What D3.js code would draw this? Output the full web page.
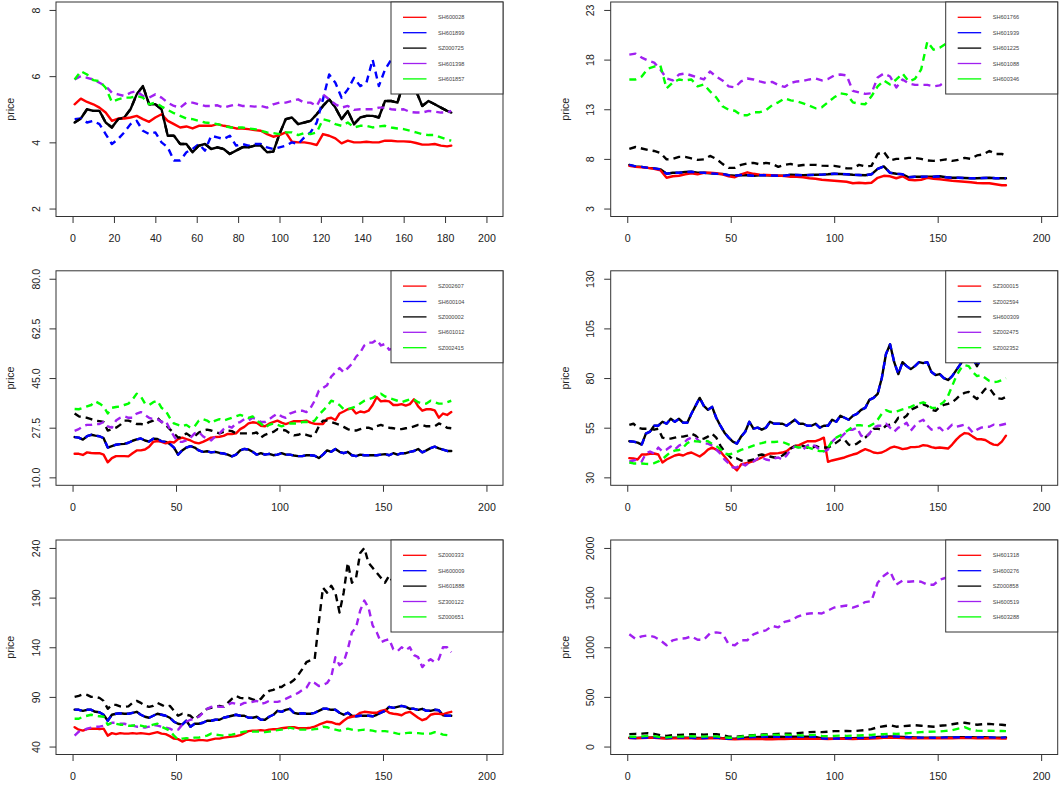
<!DOCTYPE html>
<html><head><meta charset="utf-8">
<script src="https://cdn.jsdelivr.net/npm/d3@7"></script>
<style>html,body{margin:0;padding:0;background:#fff;}svg{display:block;}</style>
</head><body>
<svg id="chart" width="1064" height="787"></svg>
<script>
// ---------- time index (trading day number) ----------
const days3 = [1,4,7,10,13,16,19,22,25,28,31,34,37,40,43,46,49,52,55,58,61,64,67,70,73,76,79,82,85,88,91,94,97,100,103,106,109,112,115,118,121,124,127,130,133,136,139,142,145,148,151,154,157,160,163,166,169,172,175,178,181,183];
const days2 = d3.range(1, 184, 2);

// ---------- panel 1 ----------
const SH600028 = [5.15,5.32,5.22,5.15,5.05,4.9,4.65,4.72,4.72,4.75,4.8,4.7,4.62,4.75,4.85,4.65,4.55,4.45,4.48,4.42,4.5,4.5,4.5,4.55,4.5,4.47,4.42,4.42,4.4,4.37,4.35,4.25,4.17,4.22,4.3,4.02,4.0,4.0,3.97,3.92,4.25,4.2,4.12,3.97,4.05,4.0,4.0,4.02,4.0,4.0,4.05,4.05,4.03,4.03,4.02,3.98,3.93,3.93,3.95,3.9,3.88,3.9];
const SH601899 = [4.7,4.72,4.6,4.65,4.55,4.25,3.95,4.1,4.3,4.55,4.65,4.35,4.25,4.3,4.0,3.85,3.45,3.45,3.7,3.8,3.95,3.75,4.2,4.15,4.1,4.2,3.9,3.95,3.9,3.95,3.95,3.85,3.8,3.85,3.9,4.0,3.95,4.15,4.3,4.6,5.3,6.05,5.8,5.35,5.6,5.95,5.7,5.8,6.5,5.7,6.2,6.5,6.7,6.9,6.6,6.8,6.5,6.6,6.4,6.3,6.4,6.3];
const SZ000725 = [4.6,4.72,5.0,4.95,4.95,4.6,4.45,4.7,4.75,5.0,5.45,5.7,5.15,5.15,5.0,4.2,4.2,3.95,3.95,3.7,3.9,3.95,3.8,3.85,3.8,3.65,3.75,3.85,3.85,3.9,3.9,3.7,3.72,4.25,4.7,4.75,4.55,4.6,4.65,4.85,5.1,5.3,5.05,4.7,4.95,4.55,4.75,4.8,4.8,4.75,5.25,5.25,5.2,5.8,5.7,5.55,5.1,5.25,5.15,5.05,4.95,4.9];
const SH601398 = [5.9,6.0,5.95,5.9,5.8,5.7,5.5,5.45,5.4,5.5,5.55,5.4,5.35,5.45,5.35,5.2,5.1,5.05,5.2,5.2,5.15,5.1,5.1,5.12,5.05,5.1,5.15,5.1,5.1,5.08,5.1,5.05,5.15,5.2,5.2,5.25,5.3,5.2,5.2,5.1,5.45,5.3,5.15,5.05,5.1,4.98,5.0,5.0,5.0,5.05,5.05,5.0,4.98,5.0,4.92,4.9,4.9,4.95,4.93,4.9,4.9,4.95];
const SH601857 = [5.9,6.15,6.05,5.88,5.85,5.65,5.22,5.3,5.35,5.35,5.4,5.35,5.15,5.2,5.08,4.98,4.88,4.8,4.72,4.7,4.65,4.6,4.58,4.55,4.5,4.45,4.45,4.45,4.42,4.4,4.35,4.3,4.28,4.25,4.3,4.3,4.22,4.28,4.25,4.3,4.7,4.65,4.55,4.5,4.6,4.45,4.5,4.5,4.45,4.48,4.5,4.45,4.42,4.4,4.35,4.3,4.25,4.22,4.22,4.15,4.08,4.05];

// ---------- panel 2 ----------
const SH601766 = [7.3,7.2,7.15,7.1,7.0,6.85,6.1,6.25,6.3,6.45,6.55,6.45,6.6,6.6,6.55,6.45,6.25,6.15,6.45,6.65,6.5,6.42,6.38,6.35,6.32,6.28,6.2,6.2,6.15,6.05,6.0,5.9,5.85,5.8,5.75,5.7,5.55,5.6,5.55,5.6,6.1,6.3,6.25,6.05,6.25,5.9,5.85,5.9,6.1,6.0,5.95,5.88,5.8,5.75,5.7,5.65,5.58,5.55,5.55,5.45,5.35,5.35];
const SH601939 = [7.4,7.25,7.2,7.1,7.05,6.95,6.5,6.6,6.6,6.68,6.7,6.62,6.6,6.55,6.5,6.48,6.35,6.3,6.38,6.35,6.3,6.35,6.35,6.33,6.3,6.3,6.4,6.38,6.35,6.38,6.4,6.42,6.45,6.5,6.48,6.45,6.4,6.38,6.35,6.45,7.0,7.25,6.6,6.5,6.45,6.15,6.2,6.2,6.22,6.2,6.25,6.15,6.1,6.1,6.08,6.05,6.05,6.07,6.1,6.05,6.05,6.05];
const SH601225 = [9.0,9.2,9.05,8.9,8.8,8.6,7.95,8.0,8.2,8.2,8.05,7.9,7.95,8.3,8.0,7.5,7.1,7.1,7.4,7.55,7.6,7.45,7.6,7.5,7.2,7.4,7.5,7.3,7.38,7.4,7.4,7.32,7.3,7.3,7.2,7.05,7.05,7.4,7.25,7.3,8.5,8.7,7.85,8.0,8.0,8.1,8.1,8.0,7.85,7.8,7.85,7.95,7.8,7.9,8.1,8.0,8.35,8.45,8.8,8.5,8.5,8.3];
const SH601088 = [18.5,18.6,18.2,17.9,17.7,17.0,16.1,15.9,16.5,16.6,16.4,16.2,16.0,16.8,16.3,15.9,15.3,15.2,15.8,16.1,16.0,15.8,15.65,15.75,15.45,15.25,15.65,15.8,15.85,16.0,16.1,15.9,16.05,16.4,16.5,16.4,14.85,14.7,14.55,14.6,16.2,16.6,16.3,15.2,16.0,15.6,15.45,15.45,15.45,15.3,15.4,15.8,16.0,16.3,16.0,15.8,16.2,16.5,16.1,16.0,15.9,16.0];
const SH600346 = [16.0,16.0,16.3,17.1,17.3,17.4,15.1,15.7,16.0,15.9,16.0,15.3,15.5,14.8,14.2,13.3,12.95,12.85,12.4,12.4,12.7,12.7,12.9,13.4,13.7,14.1,13.9,13.8,13.6,13.35,13.1,13.2,13.7,14.2,14.6,14.5,13.7,13.55,13.5,14.3,15.3,15.9,15.5,16.0,16.6,15.8,16.05,17.0,19.8,19.0,19.2,19.6,20.0,20.4,20.8,20.5,20.9,21.2,20.7,20.9,21.0,21.1];

// ---------- panel 3 ----------
const SZ002607 = [18.3,18.3,17.9,18.8,18.6,18.5,18.5,18.0,15.3,16.8,17.5,17.5,17.5,17.4,18.5,19.5,19.5,19.8,20.8,22.5,22.8,22.5,22.0,22.5,22.3,23.5,24.0,23.5,23.0,22.3,22.0,22.5,23.2,24.0,24.2,24.3,24.6,25.3,25.3,25.5,27.0,27.8,29.0,29.4,29.2,28.2,28.0,28.9,29.5,30.0,29.3,28.8,29.3,29.8,29.8,29.8,30.0,29.3,28.9,28.8,28.8,30.7,31.0,30.2,32.5,33.2,34.0,34.3,32.5,33.2,32.9,33.5,35.5,38.3,36.8,37.0,36.8,35.5,35.5,35.8,35.3,35.8,37.5,35.0,33.5,34.0,34.0,33.6,31.0,32.5,32.0,33.0];
const SH600104 = [24.2,24.0,23.3,24.5,25.0,24.7,24.5,23.8,20.5,21.0,21.5,21.7,21.8,22.2,22.9,23.4,23.7,23.0,22.6,23.6,23.5,22.7,22.5,21.8,20.5,18.0,19.5,20.5,21.0,20.5,19.5,19.0,19.2,18.8,19.0,18.6,18.4,18.0,17.4,18.0,19.5,20.0,19.8,19.0,18.0,18.5,18.0,18.3,17.8,18.0,18.5,18.0,18.0,17.7,17.5,17.5,17.8,17.8,17.6,16.8,18.0,19.5,19.0,20.0,19.0,18.5,19.0,17.8,17.5,18.0,17.8,17.8,17.8,17.8,18.0,18.2,17.8,18.5,18.0,18.5,18.5,19.0,19.3,20.0,18.8,19.5,20.3,20.8,20.2,19.8,19.3,19.3];
const SZ000002 = [32.5,31.5,31.2,31.0,30.5,30.0,29.8,29.5,26.5,27.0,27.5,28.5,30.0,30.0,29.5,28.8,28.8,28.5,29.5,30.0,31.0,29.5,28.5,27.0,25.5,24.0,24.3,25.5,24.5,24.5,25.8,26.5,26.8,26.5,26.0,25.5,26.0,26.5,26.3,25.5,25.5,25.5,25.5,25.5,25.8,24.0,25.0,25.5,26.0,27.0,26.8,26.5,25.5,24.8,25.0,25.5,25.0,24.5,25.0,28.0,30.0,30.0,29.5,29.0,28.5,27.8,27.0,26.5,26.5,27.0,27.5,27.5,27.0,28.0,28.5,28.0,27.5,27.3,27.0,27.0,27.3,27.5,28.0,28.5,28.5,28.0,28.0,28.0,29.0,28.5,27.5,27.3];
const SH601012 = [26.4,27.0,28.0,28.5,28.5,28.8,28.8,29.5,28.0,27.5,30.0,31.0,31.5,31.0,31.0,32.5,33.0,32.0,31.0,30.5,30.5,29.5,30.0,27.0,24.5,22.5,22.5,23.0,24.0,25.5,26.0,24.5,23.5,23.0,24.5,25.5,27.0,28.0,27.5,29.0,29.5,30.5,30.0,31.0,30.5,29.5,29.5,30.5,31.5,32.5,31.5,31.0,32.5,33.0,33.5,33.5,33.0,34.5,37.0,40.5,41.5,42.5,45.5,47.0,48.5,47.0,48.5,50.0,52.5,54.0,56.5,57.5,57.5,58.5,56.5,57.0,55.0,55.5,56.0,55.0,54.5,54.0,55.0,54.0,53.0,53.5,54.0,53.0,52.5,53.0,52.5,52.0];
const SZ002415 = [34.1,34.0,34.5,35.0,35.5,36.8,36.0,35.0,32.5,34.5,34.8,35.0,35.5,36.0,37.5,39.5,38.5,36.0,35.5,36.5,37.0,34.5,33.5,31.0,29.0,28.5,28.0,28.5,27.5,28.0,30.0,30.5,30.0,29.0,30.0,30.5,30.0,30.5,31.0,31.5,32.0,31.5,31.0,31.5,30.0,29.0,27.5,28.5,29.0,28.5,28.0,28.5,29.0,29.0,29.0,29.5,29.5,29.5,30.0,32.0,33.5,35.0,37.0,36.5,35.5,34.0,34.0,34.5,35.0,36.0,37.0,37.5,38.0,39.0,39.5,38.5,38.0,37.5,37.0,36.5,37.0,37.5,37.5,36.5,36.0,36.0,37.0,36.5,36.0,36.0,36.5,37.0];

// ---------- panel 4 ----------
const SZ300015 = [39.7,39.5,39.0,41.5,41.5,41.8,42.0,41.5,37.5,39.0,40.0,41.0,41.5,41.0,42.0,42.5,41.5,40.5,42.0,44.0,45.0,44.0,43.0,40.5,38.0,35.5,33.5,36.5,37.0,37.5,38.2,39.0,40.0,41.2,42.0,42.0,42.2,42.5,43.2,44.8,45.8,46.2,47.2,48.2,48.2,48.2,49.0,50.0,37.8,38.5,39.0,39.5,40.0,40.8,41.5,42.0,43.2,44.2,43.5,42.5,42.2,42.5,43.5,44.8,45.5,45.0,44.2,44.5,45.2,45.2,45.5,46.2,46.0,45.2,44.8,45.0,44.8,44.5,46.5,49.0,51.0,52.3,52.0,50.5,49.2,49.2,48.8,47.5,46.5,46.2,48.0,51.0];
const SZ002594 = [48.2,48.0,47.5,46.5,52.0,53.0,56.0,56.0,58.0,57.0,59.5,58.0,59.5,57.5,57.5,62.0,66.0,70.0,66.0,64.0,65.5,60.0,56.0,52.5,50.0,48.0,47.0,50.5,53.0,58.0,54.5,55.0,54.0,55.0,58.0,57.0,57.0,57.0,56.0,57.5,59.0,57.0,57.0,56.0,56.0,57.0,55.0,56.0,56.0,59.0,58.0,61.0,60.0,59.0,61.0,62.0,64.0,65.0,69.0,70.0,72.0,80.0,92.0,97.0,88.0,82.0,88.0,86.0,84.5,86.0,88.0,87.5,88.0,83.0,81.5,82.0,80.0,79.0,81.0,84.0,87.0,90.0,92.0,90.0,86.0,90.0,92.0,94.0,93.0,92.0,93.0,94.0];
const SH600309 = [56.4,57.0,55.0,54.5,54.5,54.5,54.0,54.5,50.0,49.5,49.5,50.0,50.5,50.5,51.0,52.0,51.0,49.0,49.5,50.5,52.0,50.0,46.0,43.0,41.0,39.0,39.5,38.5,38.0,38.5,39.0,41.0,41.5,41.0,40.5,40.0,40.0,41.0,42.5,44.5,45.8,45.8,45.8,45.0,44.5,45.8,45.0,45.0,45.0,46.0,47.5,49.0,49.0,46.5,46.0,47.0,48.5,50.0,52.0,54.5,54.5,54.0,56.0,56.5,57.0,60.0,59.5,61.0,64.0,65.0,66.0,66.8,66.0,64.0,63.5,65.5,66.5,67.0,67.8,69.5,71.5,72.5,73.0,71.0,69.5,72.0,74.5,75.0,72.0,69.8,69.5,70.5];
const SZ002475 = [38,38.5,39,38,42,43,42,45,43,44,45.5,44,46,47,49,50,50,48,47,47,46,44,42,39,37,35,35,37,36,37.5,38,39.5,40,39,38.5,39.5,40,39,41,44,45.5,45,44,46,47,45.5,44,43,44,48,50,50,52,54,54,55,51,50,52,55,56,56,57,55,53,55,56,57.5,53.5,56,58,59,56,54,54.5,55,53,54.5,56.5,55.5,56,56.5,55,52.5,54,55,55.5,55.5,56.5,56,56.5,57];
const SZ002352 = [37.5,37,37,37,36.8,36.7,37.2,38,39.2,41,42.8,43.5,43.8,45,47.2,48.5,48.2,48,48.5,48.2,46.8,45.8,44.2,42,41.5,42,42.8,43.8,44.5,45.2,46,46.8,47.2,47.8,47.8,47.8,48,47.8,47,46.2,45.5,45,45.2,45.2,44.5,43.8,43.2,43.2,45,48.2,50,51.2,52.5,54,55.5,56.2,56.2,55.8,55.8,57,59,62,63.8,63,62.8,63.5,64.2,64.8,65.5,66.5,67.2,67.8,67,65,65,66.5,68,71,76,81,84.5,86.5,86,83,81,81.5,80,78.5,78,78.2,79,80];

// ---------- panel 5 ----------
const SZ000333 = [59.5,57,56,57.5,58,58,57.5,58,51,53.5,52.5,53.5,53,53,53.5,53,53.5,53,52.5,53.5,54.5,53,52.5,50.5,48,47.5,45,47,46.5,46,46.5,46.5,46,47,48,48,49,49.5,50,50.5,51.5,53.5,55.5,56,56,56.5,56,57,57.5,57.5,58.5,59,59.5,59.5,58.5,58.5,58.5,59,60,62,63.5,65,64.5,63,62.5,66,69,70,71,74,75,74.5,74,74,76,77,74,73,72.5,71.5,74,75,72,69,66.5,68,72,73,73,72.5,74,75];
const SH600009 = [77.2,77,76,77,77,75,74.5,72,66,72,73,73.5,73,73,74,75,72,70,69,71,73,72,71,69,65,63,62,66,60,63,63,64,66,66,67,67,69,70,71,72,71,71,69,69,70,67,67,70,72,76,75,77,78,74,73,73.5,73,73,74,76,78,78,77,77,74,72,74,71,70.5,71,71,71,70.5,72,74,76,80,79,80,81,80,78,78,77,78,76,76,77,76.5,71.5,71,71];
const SH601888 = [90,91,92.5,92,90,90,89,86,78,82,82,80.5,80,80.5,84,86,84,81,80,81,84,82,80,81,76,71,73,72,71,67,71,74,78,79,80,81,80,84,88,91,89,88.5,89,87.5,86,88,93,96,97,100,100,103,104,107,112,118,125,127,128,165,200,195,202,195,175,195,225,205,210,235,240,225,220,215,210,205,212,205,200,198,195,197,200,196,193,195,198,196,194,192,195,193];
const SZ300122 = [51,55,56,58,59,60,60,61,62,64,64,63,63,62,61,60,60,59,60,62,61,60,59,58,56,57,62,65,67,68,70,74,78,80,81,80,80,82,84,83,82,84,84,85,86,83,84,86,85,85,86,88,90,92,94,97,99,106,104,101,102,104,110,130,122,125,138,155,160,177,187,180,162,155,145,147,148,138,136,140,137,140,132,130,120,125,128,125,128,140,140,135];
const SZ000651 = [68,68,70,71,72,71,70.5,70,62,64,63,62,62,61,61,62,61,60,61,62,63,60,58,56,51,47,48,48.5,48,49,49,50,51,53,52,51.5,51,51.5,52,53,54,55,55.5,55,55,55,54.5,55,56,56.5,57,57.5,59,58,57,57,57,57,57.5,58,60,59.5,58,57,56,57,58,57,56,56.5,57,56.5,56,55,55.5,55.5,55,54,53,52.5,53.5,54,53.5,53.5,53,53,53,54.5,53.5,52,51.5,51];

// ---------- panel 6 ----------
const SH601318 = [85,85,86,88,87,84,80,82,83,84,83,80,82,84,85,82,75,72,75,76,78,76,74,73,75,76,77,78,78,78,77,77,76,77,78,77,76,77,78,80,84,88,90,88,86,84,83,82,82,83,84,85,84,85,86,85,84,83,83,82,80,80];
const SH600276 = [88,86,88,90,92,88,85,88,90,90,88,86,86,88,90,84,78,78,85,92,95,98,100,99,98,97,98,99,98,99,98,82,78,80,82,84,85,86,87,90,96,98,102,100,97,94,92,90,90,89,90,92,92,94,95,94,92,93,92,90,90,92];
const SZ000858 = [125,128,130,135,128,115,108,115,118,120,125,122,120,122,125,115,100,98,105,110,115,120,122,125,128,130,130,135,140,145,148,145,150,155,155,158,155,160,165,175,195,205,215,200,205,210,215,210,205,200,210,215,225,235,240,230,220,225,228,222,220,215];
const SH600519 = [1130,1085,1110,1120,1105,1070,1020,1070,1085,1090,1110,1075,1075,1140,1150,1140,1030,1020,1070,1070,1130,1155,1170,1215,1200,1255,1270,1305,1330,1340,1345,1340,1370,1400,1410,1420,1400,1420,1455,1465,1650,1720,1765,1630,1670,1660,1665,1660,1630,1630,1680,1700,1720,1750,1740,1760,1780,1760,1770,1790,1780,1770];
const SH603288 = [100,98,102,108,105,95,92,98,100,102,104,100,100,105,102,95,88,90,100,108,112,115,118,120,118,120,118,115,112,115,118,108,105,108,110,108,110,112,115,118,122,125,130,128,130,135,140,145,148,150,152,158,165,180,195,170,160,158,160,158,156,155];

// ---------- axis ticks ----------
const xTicks1 = [0,20,40,60,80,100,120,140,160,180,200];
const xTicks = [0,50,100,150,200];
const yTicks1 = [2,4,6,8];
const yTicks2 = [3,8,13,18,23];
const yTicks3 = [10,27.5,45,62.5,80];
const yTicks4 = [30,55,80,105,130];
const yTicks5 = [40,90,140,190,240];
const yTicks6 = [0,500,1000,1500,2000];

const panels = [
  {names:["SH600028","SH601899","SZ000725","SH601398","SH601857"], values:[SH600028,SH601899,SZ000725,SH601398,SH601857], days:days3, yTicks:yTicks1, fmt:d3.format("d"), xTicks:xTicks1, base:2},
  {names:["SH601766","SH601939","SH601225","SH601088","SH600346"], values:[SH601766,SH601939,SH601225,SH601088,SH600346], days:days3, yTicks:yTicks2, fmt:d3.format("d"), xTicks:xTicks, base:1},
  {names:["SZ002607","SH600104","SZ000002","SH601012","SZ002415"], values:[SZ002607,SH600104,SZ000002,SH601012,SZ002415], days:days2, yTicks:yTicks3, fmt:d3.format(".1f"), xTicks:xTicks, base:1},
  {names:["SZ300015","SZ002594","SH600309","SZ002475","SZ002352"], values:[SZ300015,SZ002594,SH600309,SZ002475,SZ002352], days:days2, yTicks:yTicks4, fmt:d3.format("d"), xTicks:xTicks, base:1},
  {names:["SZ000333","SH600009","SH601888","SZ300122","SZ000651"], values:[SZ000333,SH600009,SH601888,SZ300122,SZ000651], days:days2, yTicks:yTicks5, fmt:d3.format("d"), xTicks:xTicks, base:1},
  {names:["SH601318","SH600276","SZ000858","SH600519","SH603288"], values:[SH601318,SH600276,SZ000858,SH600519,SH603288], days:days3, yTicks:yTicks6, fmt:d3.format("d"), xTicks:xTicks, base:1}
];

const colors = ["#ff0000","#0000ff","#000000","#a020f0","#00ff00"];
const dashed = [false,true,true,true,true];

const svg = d3.select("#chart");
const FONT = "'Liberation Sans', Arial, Helvetica, sans-serif";
const colLeft = [56, 610.7];
const rowTop = [2, 270.8, 540];
const W = 447, H = 214.5;
const AX = "#333";

panels.forEach((p, k) => {
  const left = colLeft[k % 2], top = rowTop[Math.floor(k / 2)];
  const ymin = p.yTicks[0], ymax = p.yTicks[p.yTicks.length - 1];
  const ypad = (ymax - ymin) * 0.04;
  const x = d3.scaleLinear().domain([-8, 208]).range([left, left + W]);
  const y = d3.scaleLinear().domain([ymin - ypad, ymax + ypad]).range([top + H, top]);
  const g = svg.append("g");

  const clipId = "clip" + k;
  g.append("clipPath").attr("id", clipId).append("rect")
    .attr("x", left).attr("y", top).attr("width", W).attr("height", H);

  const line = d3.line().x((d, i) => x(p.days[i])).y(d => y(d));
  const lg = g.append("g").attr("clip-path", `url(#${clipId})`);
  // base series drawn first as solid black (as in the original plot() call)
  lg.append("path").attr("d", line(p.values[p.base]))
    .attr("fill", "none").attr("stroke", "#000").attr("stroke-width", 2.4)
    .attr("stroke-linejoin", "round").attr("stroke-linecap", "round");
  p.values.forEach((vals, i) => {
    lg.append("path").attr("d", line(vals))
      .attr("fill", "none").attr("stroke", colors[i]).attr("stroke-width", 2.4)
      .attr("stroke-linejoin", "round").attr("stroke-linecap", dashed[i] ? "butt" : "round")
      .attr("stroke-dasharray", dashed[i] ? "7,5" : null);
  });

  // axes (R style: ticks outside, box around)
  const xAxis = d3.axisBottom(x).tickValues(p.xTicks).tickSize(6.5).tickPadding(4).tickFormat(d3.format("d"));
  const xg = g.append("g").attr("transform", `translate(0,${top + H})`).call(xAxis);
  xg.select(".domain").remove();
  xg.selectAll("line").attr("stroke", AX);
  xg.selectAll("text").attr("font-family", FONT).attr("font-size", "10.6px").attr("fill", "#222")
    .attr("dy", null).attr("y", 21.5).attr("dominant-baseline", "central");

  const yAxis = d3.axisLeft(y).tickValues(p.yTicks).tickSize(6.5).tickFormat(p.fmt);
  const yg = g.append("g").attr("transform", `translate(${left},0)`).call(yAxis);
  yg.select(".domain").remove();
  yg.selectAll("line").attr("stroke", AX);
  yg.selectAll("text").attr("font-family", FONT).attr("font-size", "10.6px").attr("fill", "#222")
    .attr("x", null).attr("dy", null).attr("text-anchor", "middle").attr("dominant-baseline", "central")
    .attr("transform", "translate(-20.3,0) rotate(-90)");

  g.append("rect").attr("x", left).attr("y", top).attr("width", W).attr("height", H)
    .attr("fill", "none").attr("stroke", AX).attr("stroke-width", 1);

  g.append("text").attr("transform", `translate(${left - 45.6},${top + H / 2}) rotate(-90)`)
    .attr("text-anchor", "middle").attr("dominant-baseline", "central")
    .attr("font-family", FONT).attr("font-size", "10.6px").attr("fill", "#222").text("price");

  // legend
  const lw = 112, lh = 92, lx = left + W - lw, ly = top;
  const leg = g.append("g");
  leg.append("rect").attr("x", lx).attr("y", ly).attr("width", lw).attr("height", lh)
    .attr("fill", "#fff").attr("stroke", AX).attr("stroke-width", 1);
  p.names.forEach((n, i) => {
    const yy = ly + 15.3 + i * 15.4;
    leg.append("line").attr("x1", lx + 12).attr("x2", lx + 35.5).attr("y1", yy).attr("y2", yy)
      .attr("stroke", colors[i]).attr("stroke-width", 1.3);
    leg.append("text").attr("x", lx + 47).attr("y", yy).attr("dominant-baseline", "central")
      .attr("font-family", FONT).attr("font-size", "5.6px").attr("fill", "#444").text(n);
  });
});
</script>
</body></html>
